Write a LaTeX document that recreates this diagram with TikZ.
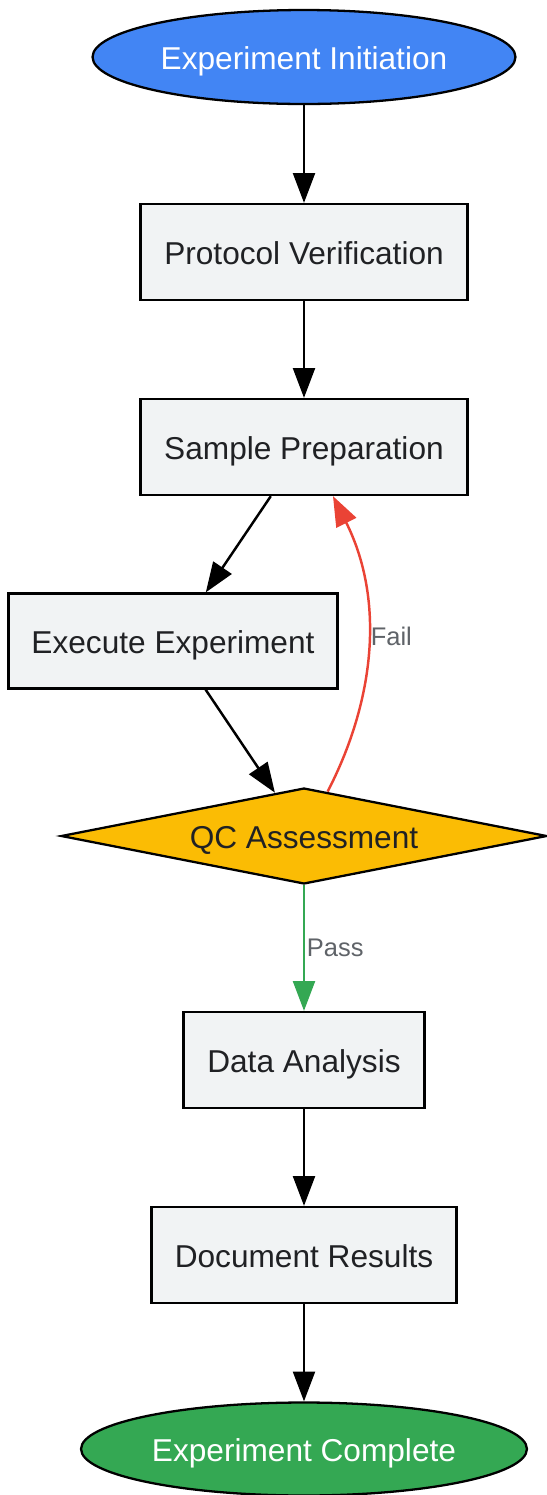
\documentclass[tikz,border=0pt]{standalone}
\usepackage{fontspec}
\setmainfont{Liberation Sans}
\usetikzlibrary{shapes.geometric, arrows.meta}
\definecolor{startblue}{HTML}{4285F4}
\definecolor{endgreen}{HTML}{34A853}
\definecolor{qcyellow}{HTML}{FBBC04}
\definecolor{boxgray}{HTML}{F1F3F4}
\definecolor{textdark}{HTML}{202124}
\definecolor{labelgray}{HTML}{5F6368}
\definecolor{failred}{HTML}{EA4335}
\tikzstyle{arrow} = [line width=1.4pt,-{Triangle[length=17pt,width=12.5pt]}]
\tikzset{terminal/.style={ellipse,draw,line width=1.3pt,inner sep=0pt,text=white,text height=15pt,text depth=1pt,font=\fontsize{18}{22}\selectfont},
step box/.style={rectangle,draw,line width=1.3pt,fill=boxgray,text=textdark,inner sep=0pt,minimum height=1.92cm,text height=15pt,text depth=1pt,font=\fontsize{18}{22}\selectfont},
decision/.style={diamond,draw,line width=1.3pt,fill=qcyellow,text=textdark,shape aspect=5,inner sep=0pt,text height=15pt,text depth=1pt,font=\fontsize{18}{22}\selectfont},
edge label/.style={text=labelgray,inner sep=1pt,font=\fontsize{14.5}{17}\selectfont}}

\begin{document}
\begin{tikzpicture}[x=0.02cm, y=-0.02cm]
    \useasboundingbox (0,0) rectangle (547,1495);
    \node [terminal, fill=startblue, minimum width=8.46cm, minimum height=1.88cm] (start) at (304,57) {Experiment Initiation};
    \node [step box, minimum width=6.54cm] (protocol) at (304,252) {Protocol Verification};
    \node [step box, minimum width=6.54cm] (sample) at (304,447) {Sample Preparation};
    \node [step box, minimum width=6.58cm, minimum height=1.9cm] (execute) at (173,641) {Execute Experiment};
    \node [decision, minimum width=9.72cm, minimum height=1.92cm] (qc) at (304,836) {QC Assessment};
    \node [step box, minimum width=4.82cm] (analysis) at (304,1060) {Data Analysis};
    \node [step box, minimum width=6.1cm] (document) at (304,1255) {Document Results};
    \node [terminal, fill=endgreen, minimum width=8.92cm, minimum height=1.86cm] (complete) at (304,1449) {Experiment Complete};

    \draw [arrow] (start) -- (protocol);
    \draw [arrow] (protocol) -- (sample);
    \draw [arrow] (sample) -- (execute);
    \draw [arrow] (execute) -- (qc);
    % loop back when QC fails
    \draw [arrow, color=failred] (qc.62) .. controls (375,700) and (385,600) .. ([xshift=0.58cm]sample.south) node[pos=0.54, anchor=west, edge label] {Fail};
    \draw [arrow, color=endgreen] (qc) -- (analysis) node[midway, anchor=west, edge label] {Pass};
    \draw [arrow] (analysis) -- (document);
    \draw [arrow] (document) -- (complete);
\end{tikzpicture}
\end{document}
